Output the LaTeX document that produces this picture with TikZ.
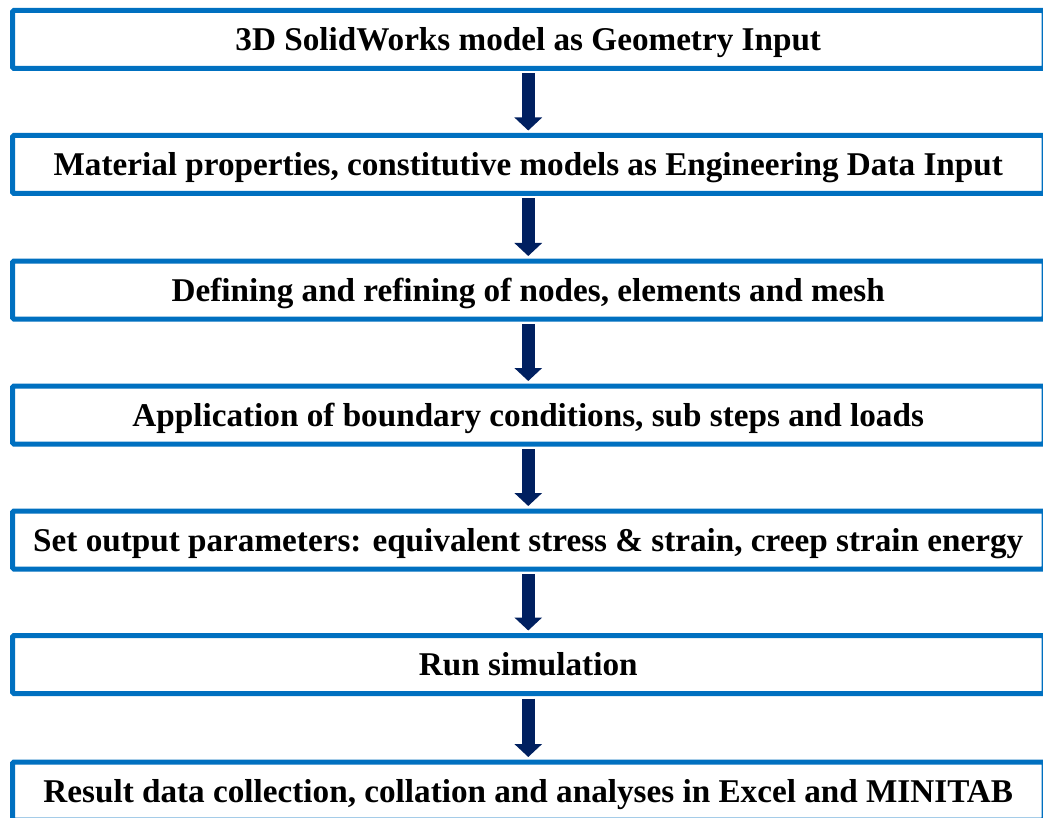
\documentclass[tikz,border=0pt]{standalone}
\usepackage{fontspec}
\setmainfont{Liberation Serif}
\usetikzlibrary{arrows.meta}
\definecolor{boxblue}{HTML}{0070C0}
\definecolor{navyarrow}{HTML}{002060}
\begin{document}
\begin{tikzpicture}[x=1pt,y=-1pt,
  stepbox/.style={draw=boxblue, line width=5pt, fill=white,
    minimum width=1031.5pt, minimum height=58pt, inner sep=0pt,
    text height=28pt, text depth=6pt,
    rounded corners=1.5pt, text=black,
    font=\fontsize{33.2}{36}\selectfont\bfseries},
  flow/.style={draw=navyarrow, line width=13pt,
    -{Triangle[width=27pt,length=13pt]},
    shorten <=2.5pt, shorten >=2.5pt}]
\clip (0,0) rectangle (1043,818);
\fill[white] (0,0) rectangle (1043,818);
\node[stepbox] (s1) at (528.25,39.5)  {3D SolidWorks model as Geometry Input};
\node[stepbox] (s2) at (528.25,164.5) {Material properties, constitutive models as Engineering Data Input};
\node[stepbox] (s3) at (528.25,290) {Defining and refining of nodes, elements and mesh};
\node[stepbox] (s4) at (528.25,415) {Application of boundary conditions, sub steps and loads};
\node[stepbox] (s5) at (528.25,540) {Set output parameters: equivalent stress \& strain, creep strain energy};
\node[stepbox] (s6) at (528.25,664.5) {Run simulation};
\node[stepbox] (s7) at (528.25,791) {Result data collection, collation and analyses in Excel and MINITAB};
\foreach \a/\b in {s1/s2,s2/s3,s3/s4,s4/s5,s5/s6,s6/s7}
  \draw[flow] (\a.south) -- (\b.north);
\end{tikzpicture}
\end{document}
